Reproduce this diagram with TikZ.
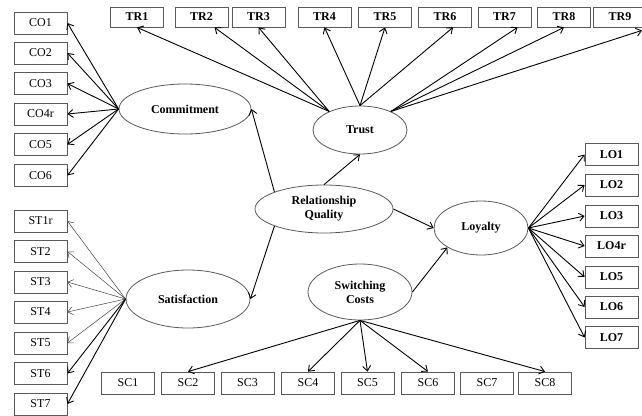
\documentclass[tikz,border=0pt]{standalone}
\usepackage{fontspec}
\setmainfont{Liberation Serif}
\usetikzlibrary{shapes.geometric,arrows.meta}
\begin{document}
\begin{tikzpicture}[x=1pt,y=-1pt,
  box/.style={draw=black!65, line width=0.8pt, rectangle, minimum width=53pt, minimum height=22pt, inner sep=0pt, font=\fontsize{12}{14}\selectfont},
  bbox/.style={box, font=\fontsize{12}{14}\selectfont\bfseries},
  lat/.style={draw=black!65, line width=0.8pt, ellipse, inner sep=0pt, align=center, font=\fontsize{12}{14}\selectfont\bfseries},
  arr/.style={-{Straight Barb[length=5pt,width=8pt]}, line width=0.9pt, black},
  thinarr/.style={arr, line width=0.5pt, black!75},
]
\useasboundingbox (0,0) rectangle (642,415);

% latent variables
\node[lat, minimum width=132pt, minimum height=50pt] (com) at (185,109) {Commitment};
\node[lat, minimum width=94pt, minimum height=48pt] (tr) at (360,130) {Trust};
\node[lat, minimum width=138pt, minimum height=48pt] (rq) at (324,209) {Relationship\\Quality};
\node[lat, minimum width=124pt, minimum height=58pt] (sat) at (188,299) {Satisfaction};
\node[lat, minimum width=94pt, minimum height=54pt] (loy) at (481,228) {Loyalty};
\node[lat, minimum width=104pt, minimum height=56pt] (swc) at (360,292) {Switching\\Costs};

% CO boxes
\foreach \n/\y in {CO1/23, CO2/53, CO3/83.5, CO4r/114, CO5/144.5, CO6/175.5}
  \node[box] (\n) at (40.5,\y) {\n};
% ST boxes
\foreach \n/\y in {ST1r/221, ST2/251.5, ST3/282, ST4/312, ST5/343, ST6/373.5, ST7/404}
  \node[box] (\n) at (40.5,\y) {\n};
% LO boxes
\foreach \n/\y in {LO1/154.5, LO2/185, LO3/216, LO4r/246, LO5/277, LO6/307, LO7/337.5}
  \node[bbox] (\n) at (611.5,\y) {\n};
% TR boxes
\foreach \n/\x in {TR1/137, TR2/201.5, TR3/258.5, TR4/324.5, TR5/385, TR6/445, TR7/504.5, TR8/564, TR9/620}
  \node[bbox, minimum height=20pt] (\n) at (\x,17) {\n};
% SC boxes
\foreach \n/\x in {SC1/128, SC2/188, SC3/247.5, SC4/308, SC5/367.5, SC6/428, SC7/487, SC8/545}
  \node[box] (\n) at (\x,383) {\n};

% Commitment indicators
\foreach \n in {CO1,CO2,CO3,CO4r,CO5,CO6}
  \draw[arr] (com.west) -- (\n.east);
% Satisfaction indicators
\foreach \n in {ST1r,ST2,ST3,ST4,ST5}
  \draw[thinarr] (sat.west) -- (\n.east);
\foreach \n in {ST6,ST7}
  \draw[arr] (sat.west) -- (\n.east);
% Loyalty indicators
\foreach \n in {LO1,LO2,LO3,LO4r,LO5,LO6,LO7}
  \draw[arr] (loy.east) -- (\n.west);
% Trust indicators
\draw[arr] (tr.149) -- (TR1.south);
\draw[arr] (tr.149) -- ([xshift=13pt]TR2.south);
\draw[arr] (tr.149) -- (TR3.south);
\draw[arr] (tr.north) -- (TR4.south);
\draw[arr] (tr.north) -- (TR5.south);
\draw[arr] (tr.north) -- ([xshift=8pt]TR6.south);
\draw[arr] (tr.31) -- ([xshift=13pt]TR7.south);
\draw[arr] (tr.31) -- (TR8.south);
\draw[arr] (tr.31) -- ([xshift=-5pt,yshift=-3pt]TR9.south east);
% Switching costs indicators
\foreach \n in {SC2,SC4,SC5,SC6,SC8}
  \draw[arr] (swc.south) -- (\n.north);

% structural paths
\draw[arr] (rq.161) -- (com.east);
\draw[arr] (rq.north) -- (tr.south);
\draw[arr] (rq.199) -- (sat.east);
\draw[arr] (rq.east) -- (loy.west);
\draw[arr] (swc.east) -- (loy.210);
\end{tikzpicture}
\end{document}
